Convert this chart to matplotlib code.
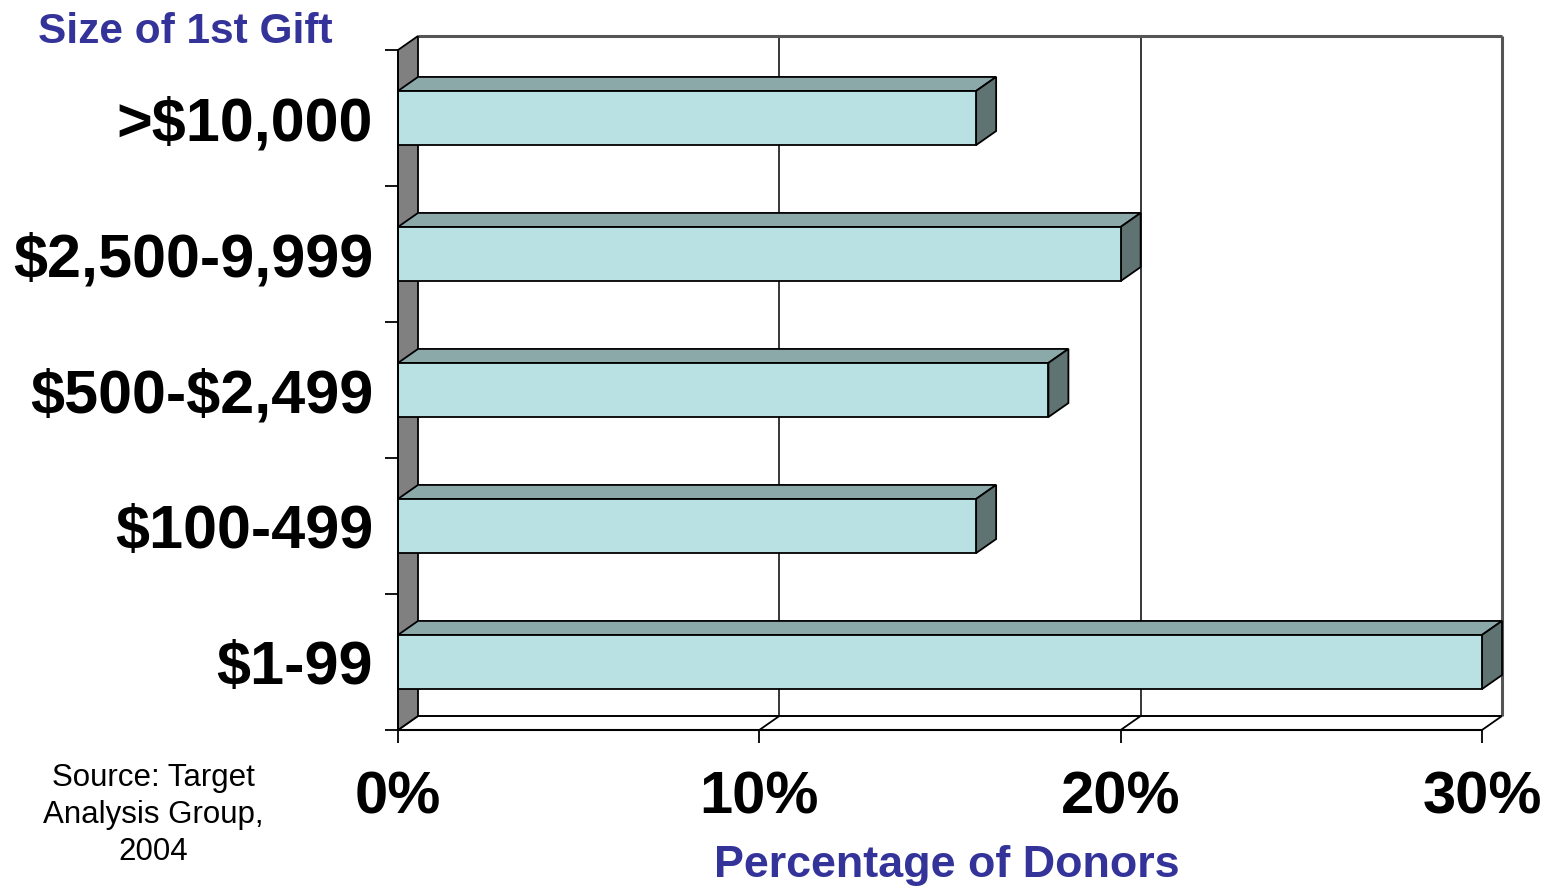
import matplotlib
matplotlib.use("Agg")
import matplotlib.pyplot as plt
from matplotlib.patches import Polygon

plt.rcParams['font.family'] = ['Liberation Sans', 'DejaVu Sans']

# Data (bottom to top)
categories = ["$1-99", "$100-499", "$500-$2,499", "$2,500-9,999", ">$10,000"]
values = [30, 16, 18, 20, 16]
x_ticks = [0, 10, 20, 30]
x_tick_labels = ["0%", "10%", "20%", "30%"]

W, H = 1566, 886
DPI = 100
fig = plt.figure(figsize=(W / DPI, H / DPI), dpi=DPI)

# Front plane of the 3-D plot area (pixels)
x0_px, x1_px = 398, 1482
y0_px, y1_px = 730, 50
ax = fig.add_axes([x0_px / W, (H - y0_px) / H, (x1_px - x0_px) / W, (y0_px - y1_px) / H])
xmax, nrows = 30, len(categories)
ax.set_xlim(0, xmax)
ax.set_ylim(0, nrows)

# Depth offset of the back plane, in data units
depth_px = (20, 14)
dx = depth_px[0] * xmax / (x1_px - x0_px)
dy = depth_px[1] * nrows / (y0_px - y1_px)

front_face = "#B9E0E3"
top_face = "#8CA9A9"
side_face = "#5F7373"
wall_grey = "#808080"
edge = "#000000"


def poly(pts, fc, ec=edge, lw=1.3, z=2):
    p = Polygon(pts, closed=True, facecolor=fc, edgecolor=ec, linewidth=lw,
                zorder=z, clip_on=False, joinstyle="miter")
    ax.add_patch(p)


def line(xs, ys, color=edge, lw=1.2, z=1):
    ax.plot(xs, ys, color=color, lw=lw, zorder=z, clip_on=False,
            solid_capstyle="butt")


# Back wall with gridlines
for xv in x_ticks[1:-1]:
    line([xv + dx, xv + dx], [dy, nrows + dy], lw=1.1)
line([dx, xmax + dx], [nrows + dy, nrows + dy], color="#555555", lw=2.2)
line([xmax + dx, xmax + dx], [dy, nrows + dy], color="#555555", lw=2.2)

# Floor
line([dx, xmax + dx], [dy, dy], lw=1.4)
for xv in x_ticks:
    line([xv, xv + dx], [0, dy], lw=1.3)

# Left side wall
poly([(0, 0), (dx, dy), (dx, nrows + dy), (0, nrows)], wall_grey, lw=1.3, z=3)

# Bars
half = 0.199
for i, v in enumerate(values):
    c = i + 0.5
    lo, hi = c - half, c + half
    poly([(0, hi), (dx, hi + dy), (v + dx, hi + dy), (v, hi)], top_face, z=4)
    poly([(v, lo), (v, hi), (v + dx, hi + dy), (v + dx, lo + dy)], side_face, z=4)
    poly([(0, lo), (v, lo), (v, hi), (0, hi)], front_face, z=5)

# Axes: only left and bottom front edges
for s in ("top", "right"):
    ax.spines[s].set_visible(False)
ax.spines["left"].set_linewidth(1.3)
ax.spines["bottom"].set_linewidth(1.5)
ax.spines["left"].set_zorder(6)
ax.spines["bottom"].set_zorder(6)

ax.set_xticks(x_ticks)
ax.set_xticklabels(x_tick_labels, fontsize=43, fontweight="bold")
ax.tick_params(axis="x", direction="out", length=9.5, width=1.3, pad=20)

ax.set_yticks(range(nrows + 1))
ax.set_yticklabels([])
ax.tick_params(axis="y", which="major", direction="out", length=9.5, width=1.3)
ax.set_yticks([i + 0.5 for i in range(nrows)], minor=True)
ax.set_yticklabels([c.replace("$", r"\$") for c in categories], minor=True,
                   fontsize=44, fontweight="bold")
ax.tick_params(axis="y", which="minor", length=0, pad=18)
ax.set_facecolor("none")

navy = "#333399"
fig.text(38 / W, 1 - 43 / H, "Size of 1st Gift", color=navy, fontsize=30.5,
         fontweight="bold", ha="left", va="baseline")
fig.text(947 / W, 1 - 865 / H, "Percentage of Donors", color=navy, fontsize=32.3,
         fontweight="bold", ha="center", va="center")
fig.text(153 / W, 1 - 815 / H, "Source: Target\nAnalysis Group,\n2004",
         fontsize=22.5, ha="center", va="center", linespacing=1.32)

fig.savefig("out.png", dpi=DPI)
